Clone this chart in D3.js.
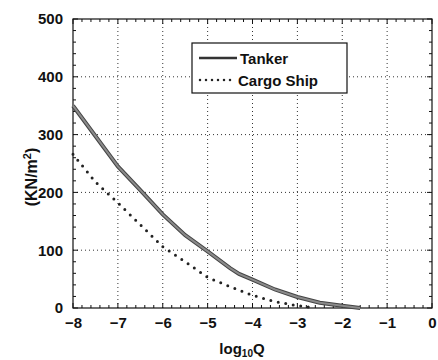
<!DOCTYPE html>
<html><head><meta charset="utf-8">
<script src="https://cdn.jsdelivr.net/npm/d3@7"></script>
<style>
body{margin:0;background:#fff;}
text{font-family:"Liberation Sans",Arial,sans-serif;font-weight:bold;fill:#111;}
</style></head>
<body><svg id="c" width="438" height="360"></svg>
<script>
const xTicks = [-8,-7,-6,-5,-4,-3,-2,-1,0];
const yTicks = [0,100,200,300,400,500];
const tankerX = [-8,-7,-6.5,-6,-5.5,-5,-4.5,-4.3,-4,-3.5,-3,-2.5,-2,-1.6];
const tankerY = [350,245,204,162,126,98,69,59,49,32,19,9,4,0];
const cargoX = [-8,-7.5,-7,-6.5,-6,-5.5,-5,-4.5,-4,-3.5,-3,-2.6];
const cargoY = [266,218,182,144,106,80,53,37,22,11,4,0];
const seriesNames = ["Tanker","Cargo Ship"];

const svg = d3.select("#c");
const L=73,R=432,T=19,B=308;
const x = d3.scaleLinear().domain([-8,0]).range([L,R]);
const y = d3.scaleLinear().domain([0,500]).range([B,T]);

// grid
const g = svg.append("g");
g.selectAll(".gx").data(xTicks.slice(1,-1)).join("line")
 .attr("x1",d=>x(d)).attr("x2",d=>x(d)).attr("y1",T).attr("y2",B)
 .attr("stroke","#333").attr("stroke-width",1).attr("stroke-dasharray","1 3");
g.selectAll(".gy").data(yTicks.slice(1,-1)).join("line")
 .attr("y1",d=>y(d)).attr("y2",d=>y(d)).attr("x1",L).attr("x2",R)
 .attr("stroke","#333").attr("stroke-width",1).attr("stroke-dasharray","1 3");

// minor ticks
const xMinor = d3.range(-8,0.001,0.2);
const yMinor = d3.range(0,500.001,20);
const tk = svg.append("g").attr("stroke","#111").attr("stroke-width",1);
xMinor.forEach(v=>{
  const len = Math.abs(v-Math.round(v))<1e-6?5:3;
  tk.append("line").attr("x1",x(v)).attr("x2",x(v)).attr("y1",B).attr("y2",B-len);
  tk.append("line").attr("x1",x(v)).attr("x2",x(v)).attr("y1",T).attr("y2",T+len);
});
yMinor.forEach(v=>{
  const len = v%100===0?5:3;
  tk.append("line").attr("y1",y(v)).attr("y2",y(v)).attr("x1",L).attr("x2",L+len);
  tk.append("line").attr("y1",y(v)).attr("y2",y(v)).attr("x1",R).attr("x2",R-len);
});

// frame
svg.append("rect").attr("x",L).attr("y",T).attr("width",R-L).attr("height",B-T)
 .attr("fill","none").attr("stroke","#111").attr("stroke-width",1.2);

// axes labels via d3 axes (text only)
const xa = svg.append("g").attr("transform",`translate(0,${B})`)
 .call(d3.axisBottom(x).tickValues(xTicks).tickSize(0).tickPadding(9).tickFormat(d=>d===0?"0":"\u2212"+Math.abs(d)));
xa.select(".domain").remove();
xa.selectAll("text").attr("font-size",15).attr("font-family","Liberation Sans, Arial, sans-serif").attr("font-weight","bold").attr("fill","#111");
const ya = svg.append("g").attr("transform",`translate(${L},0)`)
 .call(d3.axisLeft(y).tickValues(yTicks).tickSize(0).tickPadding(10));
ya.select(".domain").remove();
ya.selectAll("text").attr("font-size",15).attr("font-family","Liberation Sans, Arial, sans-serif").attr("font-weight","bold").attr("fill","#111");

// lines
const tData = tankerX.map((v,i)=>[v,tankerY[i]]);
const cData = cargoX.map((v,i)=>[v,cargoY[i]]);
const line = d3.line().x(d=>x(d[0])).y(d=>y(d[1]));
svg.append("path").datum(tData).attr("d",line).attr("fill","none")
 .attr("stroke","#444").attr("stroke-width",4);
svg.append("path").datum(tData).attr("d",line).attr("fill","none")
 .attr("stroke","#8a8a8a").attr("stroke-width",2);
svg.append("path").datum(cData).attr("d",line).attr("fill","none")
 .attr("stroke","#222").attr("stroke-width",3).attr("stroke-linecap","round")
 .attr("stroke-dasharray","0 7.6");

// legend
const lg = svg.append("g");
lg.append("rect").attr("x",192).attr("y",43).attr("width",155).attr("height",50)
 .attr("fill","#fff").attr("stroke","#111").attr("stroke-width",1.2);
lg.append("line").attr("x1",199).attr("x2",237).attr("y1",58).attr("y2",58)
 .attr("stroke","#333").attr("stroke-width",2.5);
lg.append("line").attr("x1",200).attr("x2",236).attr("y1",80).attr("y2",80)
 .attr("stroke","#222").attr("stroke-width",2.5).attr("stroke-linecap","round").attr("stroke-dasharray","0 6");
lg.append("text").attr("x",240).attr("y",64).attr("font-size",15).text(seriesNames[0]);
lg.append("text").attr("x",238).attr("y",86).attr("font-size",15).text(seriesNames[1]);

// axis titles
svg.append("text").attr("transform","translate(37,177) rotate(-90)").attr("text-anchor","middle")
 .attr("font-size",16).html('(KN/m<tspan baseline-shift="super" font-size="11">2</tspan>)');
const xt = svg.append("text").attr("x",242).attr("y",354).attr("text-anchor","middle").attr("font-size",15);
xt.append("tspan").text("log");
xt.append("tspan").attr("baseline-shift","-3").attr("font-size",10).text("10");
xt.append("tspan").text("Q");
</script></body></html>
